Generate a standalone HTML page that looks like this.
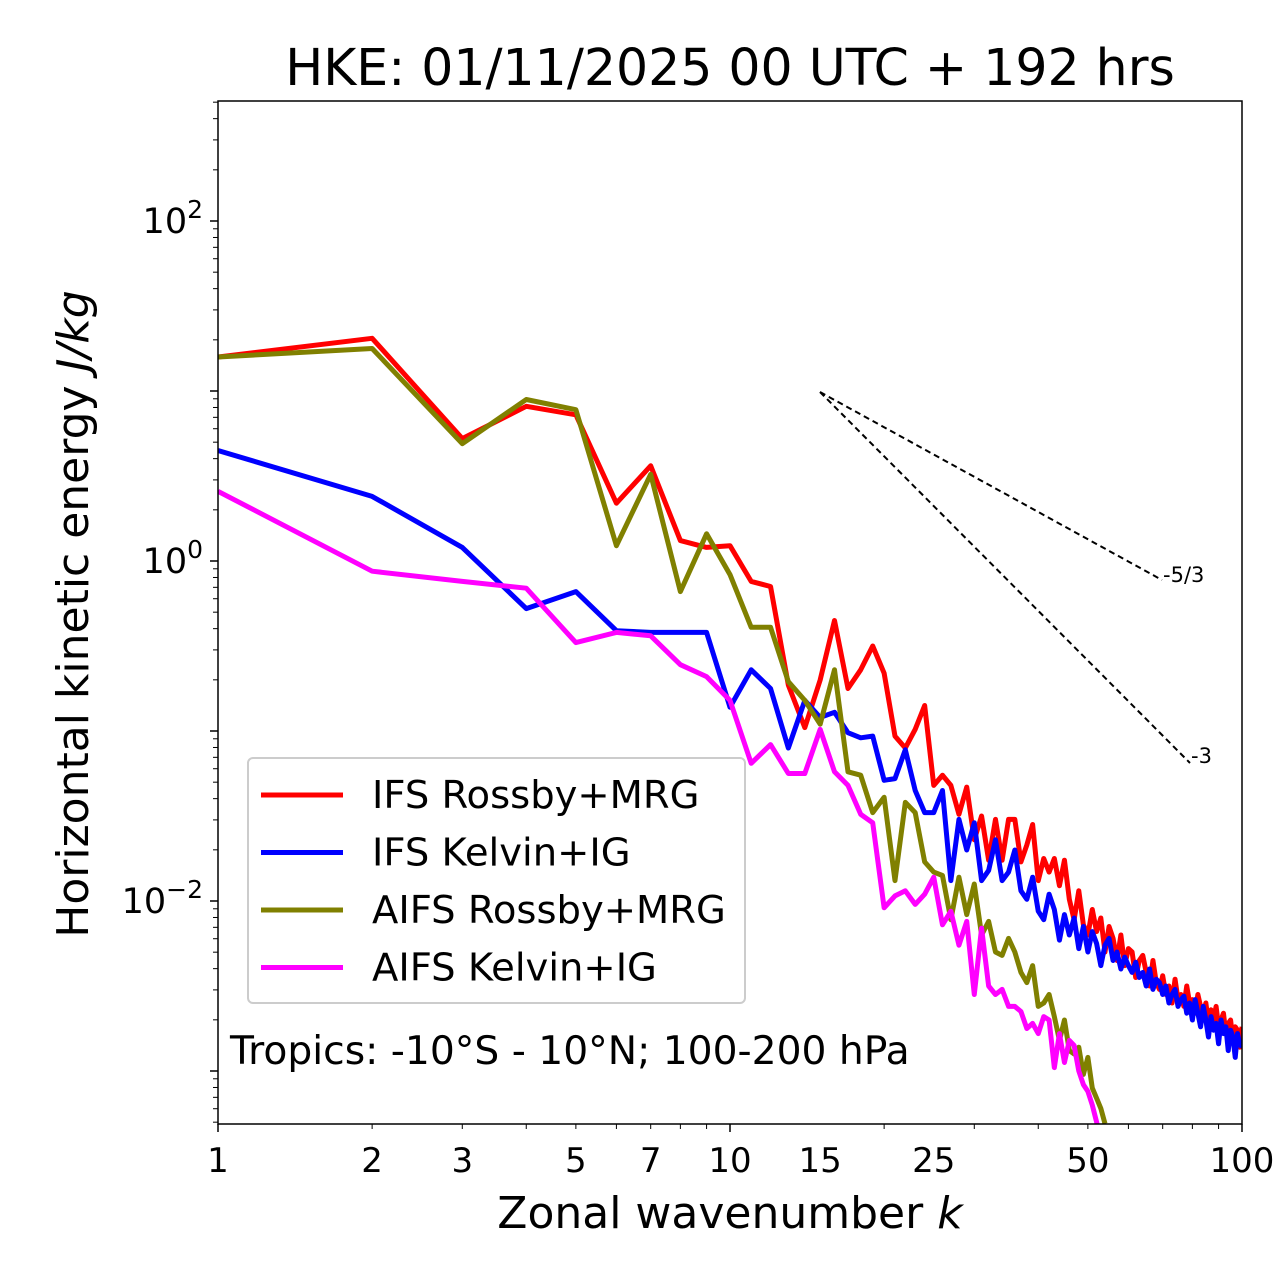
<!DOCTYPE html>
<html><head><meta charset="utf-8"><style>
body{margin:0;background:#fff}
svg{display:block;font-family:"DejaVu Sans","Liberation Sans",sans-serif}
</style></head><body>
<svg id="chart" width="1280" height="1288"></svg>
<script>
const wavenumbers = Array.from({length:100},(_,i)=>i+1);
const ifsRossbyLog = [1.2,1.31,0.72,0.91,0.86,0.34,0.56,0.12,0.08,0.09,-0.12,-0.15,-0.73,-0.98,-0.7,-0.35,-0.75,-0.64,-0.5,-0.66,-1.03,-1.1,-0.99,-0.85,-1.32,-1.26,-1.32,-1.49,-1.33,-1.64,-1.5,-1.76,-1.52,-1.76,-1.52,-1.52,-1.77,-1.67,-1.55,-1.88,-1.75,-1.83,-1.75,-1.91,-1.76,-1.99,-2.11,-1.94,-2.14,-2.2,-2.05,-2.18,-2.1,-2.3,-2.15,-2.22,-2.35,-2.2,-2.38,-2.28,-2.3,-2.45,-2.35,-2.32,-2.42,-2.5,-2.35,-2.48,-2.52,-2.44,-2.55,-2.5,-2.6,-2.46,-2.58,-2.55,-2.62,-2.5,-2.6,-2.58,-2.66,-2.55,-2.62,-2.68,-2.6,-2.72,-2.64,-2.7,-2.62,-2.74,-2.7,-2.66,-2.78,-2.72,-2.7,-2.82,-2.74,-2.76,-2.86,-2.74];
const ifsKelvinLog = [0.65,0.38,0.08,-0.28,-0.18,-0.41,-0.42,-0.42,-0.42,-0.86,-0.64,-0.75,-1.1,-0.82,-0.92,-0.89,-1.01,-1.04,-1.03,-1.29,-1.28,-1.11,-1.35,-1.48,-1.48,-1.35,-1.88,-1.52,-1.7,-1.54,-1.88,-1.82,-1.64,-1.88,-1.83,-1.7,-1.94,-1.99,-1.86,-2.06,-2.11,-1.96,-2.05,-2.23,-2.08,-2.2,-2.1,-2.28,-2.15,-2.3,-2.18,-2.25,-2.38,-2.26,-2.22,-2.35,-2.3,-2.4,-2.33,-2.38,-2.42,-2.36,-2.45,-2.42,-2.5,-2.4,-2.52,-2.46,-2.48,-2.55,-2.5,-2.6,-2.55,-2.52,-2.62,-2.58,-2.56,-2.66,-2.6,-2.7,-2.58,-2.66,-2.74,-2.62,-2.7,-2.8,-2.68,-2.76,-2.72,-2.84,-2.7,-2.78,-2.74,-2.88,-2.76,-2.8,-2.92,-2.78,-2.84,-2.86];
const aifsRossbyLog = [1.2,1.25,0.69,0.95,0.89,0.09,0.51,-0.18,0.16,-0.08,-0.39,-0.39,-0.71,-0.82,-0.96,-0.64,-1.24,-1.26,-1.48,-1.39,-1.88,-1.42,-1.48,-1.77,-1.83,-1.85,-2.11,-1.86,-2.08,-1.9,-2.2,-2.12,-2.3,-2.32,-2.22,-2.3,-2.42,-2.48,-2.38,-2.62,-2.6,-2.55,-2.68,-2.82,-2.7,-2.88,-2.9,-2.86,-3.02,-2.92,-3.1,-3.16,-3.22,-3.31];
const aifsKelvinLog = [0.41,-0.06,-0.12,-0.16,-0.48,-0.42,-0.44,-0.61,-0.68,-0.82,-1.19,-1.08,-1.25,-1.25,-0.99,-1.24,-1.32,-1.49,-1.54,-2.04,-1.97,-1.94,-2.02,-1.96,-1.86,-2.14,-2.06,-2.26,-2.12,-2.55,-2.16,-2.5,-2.55,-2.52,-2.62,-2.62,-2.65,-2.75,-2.72,-2.78,-2.68,-2.7,-2.98,-2.78,-2.95,-2.82,-2.85,-3.0,-3.08,-3.12,-3.2,-3.3,-3.4];
const seriesNames = ["IFS Rossby+MRG","IFS Kelvin+IG","AIFS Rossby+MRG","AIFS Kelvin+IG"];
const seriesColors = ["#ff0000","#0000ff","#808000","#ff00ff"];
const xTickLabels = [1,2,3,5,7,10,15,25,50,100];
const yTickExponents = [-2,0,2];

const X0=218,X1=1242,Y0=101,Y1=1124;
const xs=k=>X0+512*Math.log10(k);
const ys=v=>561-170*Math.log10(v);
const NS="http://www.w3.org/2000/svg";
const svg=document.getElementById('chart');
function mk(tag,attrs,parent){const e=document.createElementNS(NS,tag);for(const a in attrs)e.setAttribute(a,attrs[a]);(parent||svg).appendChild(e);return e;}

const defs=mk('defs',{});
const cp=mk('clipPath',{id:'clip'},defs);
mk('rect',{x:X0,y:Y0,width:X1-X0,height:Y1-Y0},cp);

const all=[ifsRossbyLog,ifsKelvinLog,aifsRossbyLog,aifsKelvinLog];
const lineNames=['ifs-rossby-line','ifs-kelvin-line','aifs-rossby-line','aifs-kelvin-line'];
const g=mk('g',{'clip-path':'url(#clip)'});
all.forEach((arr,si)=>{
  const pts=arr.map((l,i)=>xs(wavenumbers[i])+','+ys(Math.pow(10,l))).join(' ');
  const p=mk('polyline',{points:pts,fill:'none',stroke:seriesColors[si],'stroke-width':5,'stroke-linejoin':'round'},g);
  
  
});

const sl1=mk('line',{x1:820,y1:392,x2:1162,y2:580,stroke:'#000','stroke-width':2,'stroke-dasharray':'6,4'});


const sl2=mk('line',{x1:820,y1:392,x2:1190,y2:763,stroke:'#000','stroke-width':2,'stroke-dasharray':'6,4'});


const t1=mk('text',{x:1163,y:576,'font-size':21,'dominant-baseline':'middle'});t1.textContent='-5/3';


const t2=mk('text',{x:1191,y:757,'font-size':21,'dominant-baseline':'middle'});t2.textContent='-3';



const fr=mk('rect',{x:X0,y:Y0,width:X1-X0,height:Y1-Y0,fill:'none',stroke:'#000','stroke-width':1.5});



for(let d=0;d<2;d++)for(let m=1;m<10;m++){const k=m*Math.pow(10,d);const x=xs(k);const maj=m===1;
  mk('line',{x1:x,y1:Y1,x2:x,y2:Y1+(maj?8:5),stroke:'#000','stroke-width':maj?1.5:1});}
mk('line',{x1:X1,y1:Y1,x2:X1,y2:Y1+8,stroke:'#000','stroke-width':1.5});
xTickLabels.forEach(k=>{const t=mk('text',{x:xs(k),y:1172,'font-size':34,'text-anchor':'middle'});t.textContent=k;
  
  });
for(let e=-4;e<=2;e++)for(let m=1;m<10;m++){const v=m*Math.pow(10,e);const y=ys(v);if(y<Y0||y>Y1)continue;const maj=m===1;
  mk('line',{x1:X0,y1:y,x2:X0-(maj?8:5),y2:y,stroke:'#000','stroke-width':maj?1.5:1});}
yTickExponents.forEach(e=>{const t=mk('text',{x:203,y:ys(Math.pow(10,e))+12,'font-size':35,'text-anchor':'end'});
  t.appendChild(document.createTextNode('10'));
  const s=mk('tspan',{dy:-15,'font-size':25},t);s.textContent=e<0?'\u2212'+(-e):String(e);
  
  });

const ti=mk('text',{x:730,y:85,'font-size':50.5,'text-anchor':'middle'});ti.textContent='HKE: 01/11/2025 00 UTC + 192 hrs';

const xl=mk('text',{x:730,y:1228,'font-size':44,'text-anchor':'middle'});xl.innerHTML='Zonal wavenumber <tspan font-style="italic">k</tspan>';

const yl=mk('text',{x:0,y:0,'font-size':44,'text-anchor':'middle',transform:'translate(88,614) rotate(-90)'});yl.innerHTML='Horizontal kinetic energy <tspan font-style="italic">J/kg</tspan>';

const an=mk('text',{x:230,y:1064,'font-size':39.2});an.textContent='Tropics: -10\u00b0S - 10\u00b0N; 100-200 hPa';


const lg=mk('g',{});

mk('rect',{x:248,y:758,width:497,height:245,rx:5,fill:'#fff','fill-opacity':0.8,stroke:'#ccc','stroke-width':2},lg);
seriesNames.forEach((n,i)=>{const y=795+i*57.5;
  const e=mk('g',{},lg);
  
  
  mk('line',{x1:261,y1:y,x2:343,y2:y,stroke:seriesColors[i],'stroke-width':5},e);
  const t=mk('text',{x:372,y:y+13,'font-size':38.5},e);t.textContent=n;});
</script>
</body></html>
